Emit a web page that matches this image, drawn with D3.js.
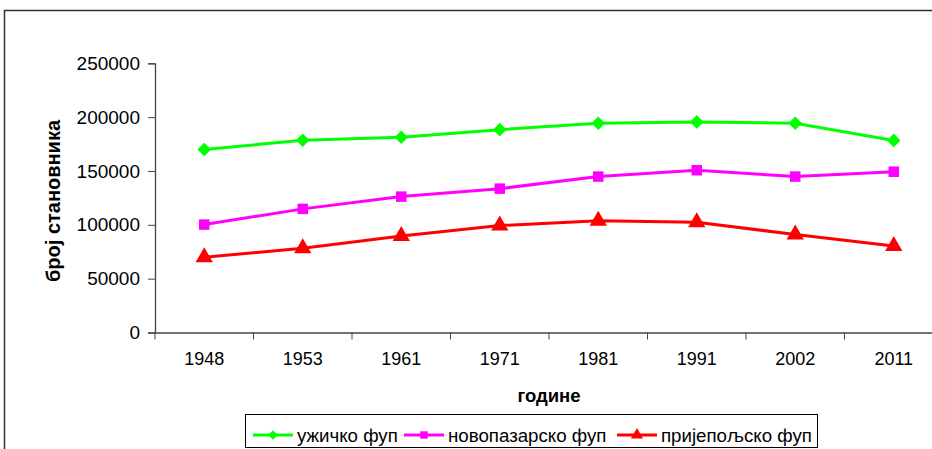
<!DOCTYPE html>
<html>
<head>
<meta charset="utf-8">
<script src="https://cdn.jsdelivr.net/npm/d3@7"></script>
<style>
  body { margin: 0; background: #fff; }
  svg { display: block; font-family: "Liberation Sans", Arial, sans-serif; }
</style>
</head>
<body>
<svg id="chart" width="932" height="449"></svg>
<script>
// data
var years = ["1948", "1953", "1961", "1971", "1981", "1991", "2002", "2011"];
var uzice = [170000, 178500, 181300, 188400, 194300, 195600, 194300, 178400];
var noviPazar = [100200, 114800, 126200, 133600, 144800, 150700, 144800, 149300];
var prijepolje = [69800, 78300, 89700, 99300, 103700, 102400, 91000, 80300];
var yTicks = [0, 50000, 100000, 150000, 200000, 250000];

// diamond = square turned by 45 degrees, like the excel marker
var series = [
    {name: "ужичко фуп", values: uzice, color: "#00ff00", symbol: d3.symbolSquare, size: 92, rotate: 45},
    {name: "новопазарско фуп", values: noviPazar, color: "#ff00ff", symbol: d3.symbolSquare, size: 110, rotate: 0},
    {name: "пријепољско фуп", values: prijepolje, color: "#ff0000", symbol: d3.symbolTriangle, size: 130, rotate: 0}
];

var svg = d3.select("#chart");

// outer chart frame (runs off the right and bottom edge like the original)
svg.append("rect")
    .attr("x", 4.5).attr("y", 10.5)
    .attr("width", 960).attr("height", 460)
    .attr("fill", "none")
    .attr("stroke", "#333")
    .attr("stroke-width", 1.5);

var plot = {left: 155, right: 943, top: 63.3, bottom: 332.5};

var x = d3.scaleBand()
    .domain(years)
    .range([plot.left, plot.right]);

var y = d3.scaleLinear()
    .domain([0, 250000])
    .range([plot.bottom, plot.top]);

// y axis
var yAxis = svg.append("g")
    .attr("transform", "translate(" + plot.left + ",0)")
    .call(d3.axisLeft(y).tickValues(yTicks).tickFormat(d3.format("d")).tickSize(7).tickPadding(8));

// x axis
var xAxis = svg.append("g")
    .attr("transform", "translate(0," + plot.bottom + ")")
    .call(d3.axisBottom(x).tickSize(0).tickPadding(20));

// category separator ticks on the x axis
xAxis.selectAll(".sep")
    .data(years)
    .enter().append("line")
    .attr("class", "sep")
    .attr("x1", function(d) { return x(d); })
    .attr("x2", function(d) { return x(d); })
    .attr("y1", 0).attr("y2", 7)
    .attr("stroke", "#444");

[yAxis, xAxis].forEach(function(g) {
    g.select(".domain").attr("stroke", "#444").attr("stroke-width", 1.3);
    g.selectAll(".tick line").attr("stroke", "#444");
    g.selectAll("text")
        .attr("fill", "#000")
        .style("font-size", "18px")
        .style("font-family", "'Liberation Sans', Arial, sans-serif");
});
yAxis.selectAll("text").style("font-size", "19px");
xAxis.selectAll(".tick text").attr("dy", "0.71em");

// axis titles
svg.append("text")
    .attr("transform", "translate(60,201) rotate(-90)")
    .attr("text-anchor", "middle")
    .style("font-size", "20px")
    .style("font-weight", "bold")
    .text("број становника");

svg.append("text")
    .attr("x", (plot.left + plot.right) / 2)
    .attr("y", 402)
    .attr("text-anchor", "middle")
    .style("font-size", "18.5px")
    .style("font-weight", "bold")
    .text("године");

// lines and markers
var line = d3.line()
    .x(function(d, i) { return x(years[i]) + x.bandwidth() / 2; })
    .y(function(d) { return y(d); });

series.forEach(function(s) {
    svg.append("path")
        .datum(s.values)
        .attr("d", line)
        .attr("fill", "none")
        .attr("stroke", s.color)
        .attr("stroke-width", 3);

    svg.selectAll(null)
        .data(s.values)
        .enter().append("path")
        .attr("d", d3.symbol().type(s.symbol).size(s.size))
        .attr("transform", function(d, i) {
            return "translate(" + (x(years[i]) + x.bandwidth() / 2) + "," + y(d) + ") rotate(" + s.rotate + ")";
        })
        .attr("fill", s.color);
});

// legend
var legend = svg.append("g");
legend.append("rect")
    .attr("x", 245.5).attr("y", 414.5)
    .attr("width", 572).attr("height", 33)
    .attr("fill", "#fff")
    .attr("stroke", "#000")
    .attr("stroke-width", 1);

var legendX = [253, 404, 617];
series.forEach(function(s, i) {
    var g = legend.append("g").attr("transform", "translate(" + legendX[i] + ",435)");
    g.append("line")
        .attr("x1", 0).attr("x2", 40)
        .attr("stroke", s.color)
        .attr("stroke-width", 3);
    g.append("path")
        .attr("d", d3.symbol().type(s.symbol).size(s.size * 0.5))
        .attr("transform", "translate(20,0) rotate(" + s.rotate + ")")
        .attr("fill", s.color);
    g.append("text")
        .attr("x", 44)
        .attr("dy", "0.35em")
        .style("font-size", "18.7px")
        .text(s.name);
});
</script>
</body>
</html>
